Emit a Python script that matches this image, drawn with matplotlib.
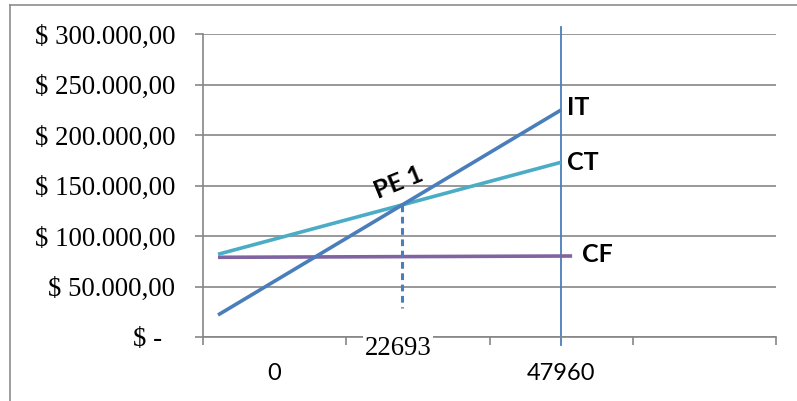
import numpy as np
import matplotlib
matplotlib.use('Agg')
import matplotlib.pyplot as plt
from matplotlib.lines import Line2D

# quantities and money values
q = [0, 47960]
it = [21800, 224800]     # ingreso total
ct = [81900, 173000]     # costo total
cf_q = [0, 49500]
cf = [78900, 80200]      # costo fijo
be_label = '22693'
be_low = 28700
x_labels = ['0', '', '47960', '']
y_ticks = [0, 50000, 100000, 150000, 200000, 250000, 300000]

x_left, x_right = -2100, 78000

c_it, c_ct, c_cf = '#4A7EBB', '#4BACC6', '#8064A2'
grid_c = '#868686'


def money(v):
    if v == 0:
        return '$ -  '
    s = f'{v:,.2f}'.replace(',', '#').replace('.', ',').replace('#', '.')
    return '$ ' + s


fig = plt.figure(figsize=(7.97, 4.01), dpi=100)
ax = fig.add_axes([203 / 797, 1 - 337 / 401, (776 - 203) / 797, (337 - 34) / 401])

ax.set_xlim(x_left, x_right)
ax.set_ylim(0, 300000)
ax.set_axisbelow(True)

for s in ['top', 'right']:
    ax.spines[s].set_visible(False)
for s in ['left', 'bottom']:
    ax.spines[s].set_color(grid_c)
    ax.spines[s].set_linewidth(1.2)

ax.set_yticks(y_ticks)
ax.set_yticklabels([money(v) for v in y_ticks], family='Liberation Serif', fontsize=19.3)
ax.tick_params(axis='y', direction='out', length=5.8, width=1.2, color=grid_c, pad=14)
ax.yaxis.grid(True, color=grid_c, lw=1.2)

# category style x axis: boundary marks as minor ticks, labels at centers
edges = np.linspace(x_left, x_right, 5)
centers = (edges[:-1] + edges[1:]) / 2
ax.set_xticks(edges, minor=True)
ax.set_xticks(centers)
ax.set_xticklabels(x_labels, family='Lato', fontsize=17)
ax.tick_params(axis='x', which='minor', direction='out', length=5.8, width=1.2, color=grid_c)
ax.tick_params(axis='x', which='major', length=0, pad=19)

ax.plot(cf_q, cf, color=c_cf, lw=2.6, solid_capstyle='butt', zorder=3)
ax.plot(q, ct, color=c_ct, lw=2.6, solid_capstyle='butt', zorder=3)
ax.plot(q, it, color=c_it, lw=2.6, solid_capstyle='butt', zorder=4)

ax.axvline(q[1], ymin=-8 / 303, ymax=1 + 7 / 303, clip_on=False, color=c_it, lw=1.3, zorder=2)

# break-even point from the two lines
sl_it = (it[1] - it[0]) / (q[1] - q[0])
sl_ct = (ct[1] - ct[0]) / (q[1] - q[0])
be_x = (ct[0] - it[0]) / (sl_it - sl_ct)
be_y = it[0] + sl_it * be_x
ax.plot([be_x, be_x], [be_y, be_low], color=c_it, lw=2.2, ls=(0, (2.2, 1.5)), zorder=3)

bold = dict(family='Lato', fontweight='bold', fontsize=18, color='black')
ax.annotate('IT', (q[1], it[1]), xytext=(4, 2), textcoords='offset points', va='center', **bold)
ax.annotate('CT', (q[1], ct[1]), xytext=(4, 0), textcoords='offset points', va='center', **bold)
ax.annotate('CF', (cf_q[1], cf[1]), xytext=(7, 1), textcoords='offset points', va='center', **bold)
ax.annotate('PE 1', (be_x, be_y), xytext=(-3, 16), textcoords='offset points',
            ha='center', va='center', rotation=22, **bold)

ax.annotate(be_label, (be_x, 0), xytext=(-3, -8), textcoords='offset points',
            ha='center', va='center', family='Liberation Serif', fontsize=19.3,
            bbox=dict(boxstyle='square,pad=0.05', fc='white', ec='none'), zorder=5,
            annotation_clip=False)

# outer chart border (top and left visible)
fig.add_artist(Line2D([10 / 797, 1], [1 - 5 / 401] * 2, color='#8c8c8c', lw=1.2))
fig.add_artist(Line2D([10 / 797] * 2, [0, 1 - 5 / 401], color='#8c8c8c', lw=1.2))

fig.savefig('out.png', dpi=100)
